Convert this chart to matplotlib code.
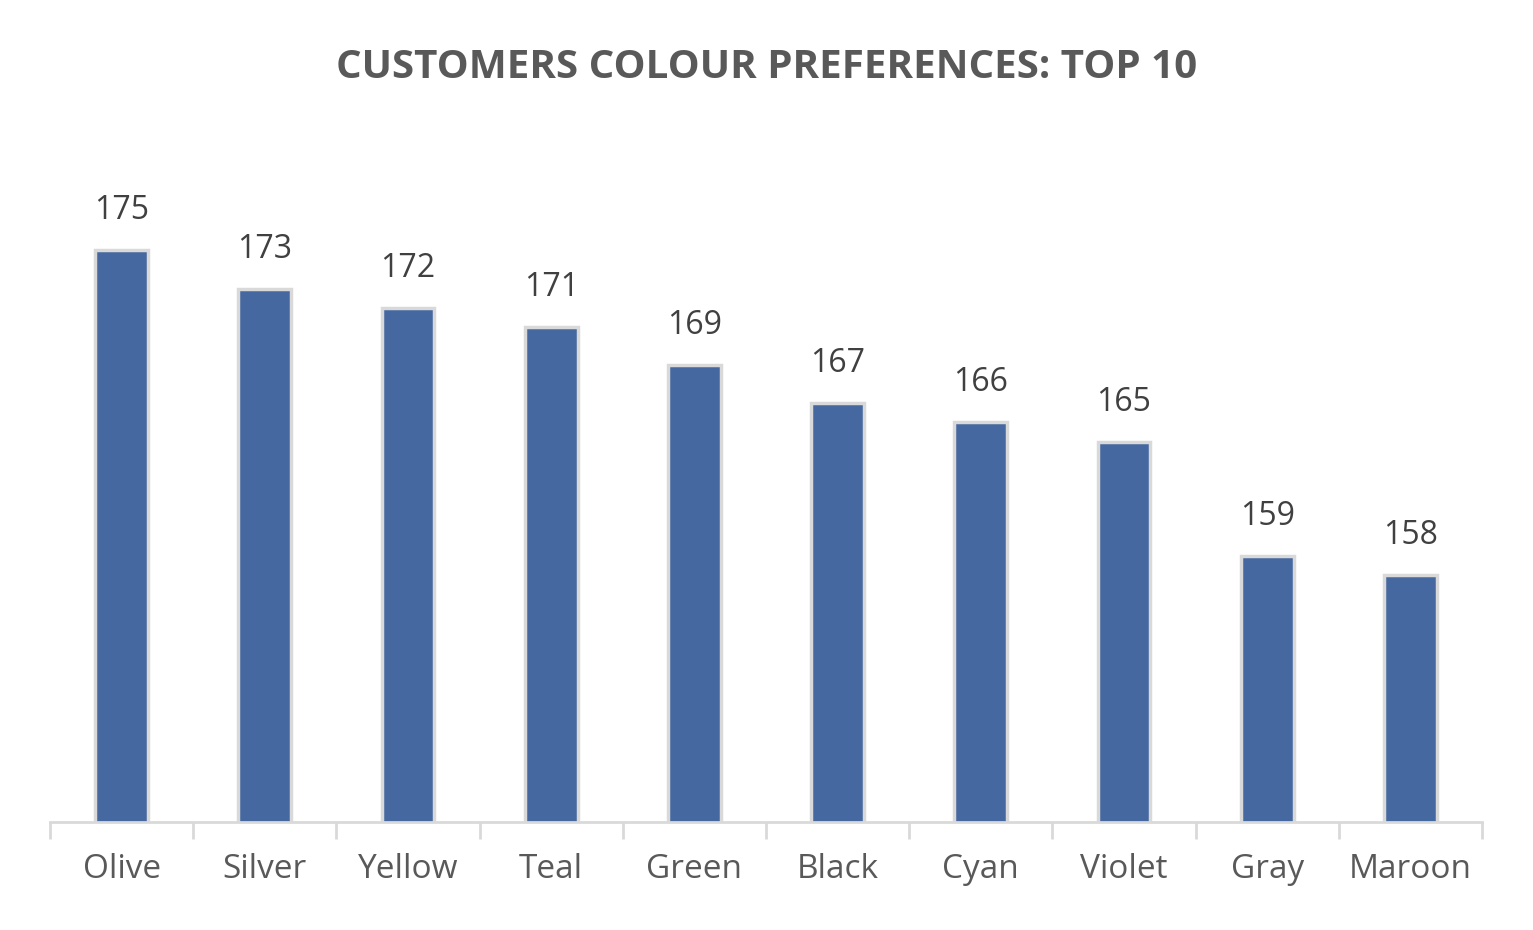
import matplotlib
matplotlib.use('Agg')
import matplotlib.pyplot as plt

colours = ['Olive', 'Silver', 'Yellow', 'Teal', 'Green', 'Black', 'Cyan', 'Violet', 'Gray', 'Maroon']
counts = [175, 173, 172, 171, 169, 167, 166, 165, 159, 158]

plt.rcParams['font.family'] = ['Open Sans', 'DejaVu Sans']

fig = plt.figure(figsize=(15.33, 9.3), dpi=100)
ax = fig.add_axes([50 / 1533, 1 - 822 / 930, 1432 / 1533, 700 / 930])

x = range(len(colours))
ax.bar(x, counts, width=0.37, color='#4568A0', edgecolor='#D9D9D9', linewidth=2.5)
for i, v in zip(x, counts):
    ax.text(i, v + 1.2, str(v), ha='center', va='bottom', fontsize=23, color='#404040')

ax.set_xlim(-0.5, len(colours) - 0.5)
ax.set_ylim(145.1, 145.1 + 700 / 19.12)
for s in ['top', 'right', 'left']:
    ax.spines[s].set_visible(False)
ax.spines['bottom'].set_color('#D9D9D9')
ax.spines['bottom'].set_linewidth(2)
ax.set_yticks([])
ax.set_xticks([i - 0.5 for i in range(len(colours) + 1)], minor=True)
ax.set_xticks(list(x))
ax.set_xticklabels(colours, fontsize=24, color='#595959')
ax.tick_params(axis='x', which='major', length=0, pad=22)
ax.tick_params(axis='x', which='minor', length=12, color='#D9D9D9', width=2)

fig.text(0.5, 1 - 68 / 930, 'CUSTOMERS COLOUR PREFERENCES: TOP 10', ha='center', va='center',
         fontsize=29, fontweight='bold', color='#595959')

fig.savefig('out.png', dpi=100)
